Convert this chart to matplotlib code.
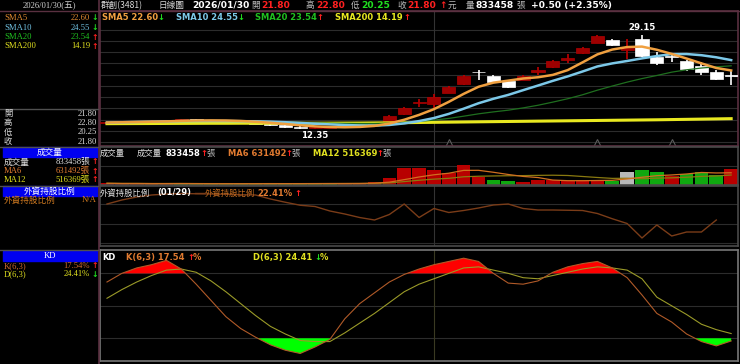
import numpy as np
import pandas as pd
import matplotlib.pyplot as plt
from matplotlib.patches import Rectangle
from matplotlib.lines import Line2D

W, H = 740, 364

# daily candles (2026/01/30 is the last bar)
opens = [13.4, 13.5, 13.6, 13.7, 13.8, 13.9, 14.0, 13.9, 13.8, 13.7, 13.5, 13.3, 13.0, 12.7, 12.5, 12.6, 12.7, 12.8, 13.0,
         13.6, 15.0, 17.0, 16.8, 18.8, 20.4, 22.4, 21.8, 20.9, 21.1, 22.4, 23.3, 24.7, 25.8, 27.7,
         28.1, 26.4, 28.4, 25.2, 25.2, 24.5, 23.6, 22.4, 21.8]
highs = [13.5, 13.7, 13.8, 13.9, 14.0, 14.1, 14.1, 14.0, 13.9, 13.8, 13.6, 13.4, 13.1, 12.8, 12.7, 12.8, 12.9, 13.1, 13.5,
         14.8, 16.2, 17.7, 18.6, 20.0, 21.9, 22.9, 21.9, 21.0, 21.9, 23.3, 24.6, 25.6, 27.0, 29.0,
         28.3, 28.3, 29.15, 26.0, 25.8, 24.6, 24.3, 22.8, 22.8]
lows = [13.3, 13.4, 13.5, 13.6, 13.7, 13.8, 13.8, 13.7, 13.6, 13.4, 13.2, 12.9, 12.6, 12.4, 12.35, 12.5, 12.6, 12.7, 12.9,
        13.5, 14.8, 16.3, 16.1, 18.7, 20.1, 21.1, 20.6, 19.6, 21.0, 22.0, 23.2, 24.0, 25.6, 27.6,
        27.1, 24.8, 25.2, 23.8, 24.2, 22.7, 22.0, 21.0, 20.25]
closes = [13.5, 13.6, 13.7, 13.8, 13.9, 14.0, 13.9, 13.8, 13.7, 13.5, 13.3, 13.0, 12.7, 12.5, 12.6, 12.7, 12.8, 13.0, 13.4,
          14.7, 16.1, 17.1, 18.1, 19.9, 21.8, 22.4, 20.75, 19.9, 21.8, 22.9, 24.5, 25.0, 26.8, 28.9,
          27.2, 26.7, 25.4, 24.0, 25.2, 23.1, 22.4, 21.3, 21.8]
sma200 = [13.30, 13.31, 13.32, 13.33, 13.34, 13.35, 13.36, 13.37, 13.37, 13.38, 13.38,
          13.38, 13.38, 13.38, 13.38, 13.39, 13.40, 13.41, 13.43, 13.45, 13.48,
          13.51, 13.54, 13.57, 13.60, 13.63, 13.66, 13.69, 13.72, 13.75, 13.78,
          13.81, 13.84, 13.87, 13.90, 13.93, 13.96, 13.99, 14.03, 14.07, 14.11, 14.15, 14.19]

volumes = [90000, 70000, 80000, 60000, 75000, 85000, 65000, 55000, 70000, 60000, 80000, 95000, 70000, 60000,
           85000, 75000, 90000, 110000, 150000,
           380000, 870000, 900000, 780000, 610000, 1030000, 400000, 260000, 210000, 170000, 260000, 245000,
           210000, 245000, 275000,
           225000, 690000, 780000, 700000, 470000, 580000, 700000, 535000, 833458]
vol_dir = list('uuuuu' 'ddddddddddd' 'uuu' 'uuuuuuu' 'dd' 'uuuuuu' 'd' 'f' 'dd' 'u' 'ddd' 'u')

# foreign holding ratio (last value is 01/29)
foreign_pct = [23.05, 23.21, 23.33, 23.41, 23.45, 23.47, 23.46, 23.45, 23.44, 23.42, 23.41, 23.25, 23.12, 23.00,
               22.95, 22.77, 22.65, 22.51, 22.41, 22.63, 23.05, 22.51, 22.87, 22.71, 22.79, 22.89, 23.01, 23.05,
               22.87, 22.81, 22.81, 22.80, 22.79, 22.67, 22.46, 22.27, 21.69, 22.21, 21.77, 21.93, 21.93, 22.41]

k_vals = [72, 80, 85, 88, 92, 84, 70, 55, 40, 29, 21, 14, 9, 6, 12, 19, 38, 52, 62, 72, 79, 84, 88, 91, 94,
          91, 80, 71, 70, 73, 81, 86, 89, 91, 85, 76, 60, 43, 35, 24, 17, 13, 17.54]
d_vals = [57, 65, 72, 78, 83, 84, 81, 73, 63, 52, 41, 31, 24, 18, 17, 17, 25, 34, 43, 53, 63, 70, 75, 80, 85,
          86, 83, 80, 76, 75, 78, 81, 84, 86, 85, 83, 75, 58, 50, 42, 33, 28, 24.41]

event_bars = [23, 33, 38]

SANS = ['DejaVu Sans', 'Noto Sans CJK TC']
CJK = ['Noto Sans CJK TC', 'DejaVu Sans']
SERIF = ['Liberation Serif', 'Noto Sans CJK TC']
RED, GREEN = '#ff2020', '#20e020'

fig = plt.figure(figsize=(W / 100, H / 100), dpi=100, facecolor='black')


def px_axes(x0, y0, x1, y1):
    ax = fig.add_axes([x0 / W, 1 - y1 / H, (x1 - x0) / W, (y1 - y0) / H])
    ax.set_facecolor('black')
    ax.set_xticks([])
    ax.set_yticks([])
    ax.set_xlim(-0.47, 42.46)
    return ax


def put(x, y, s, color='#e0e0e0', size=6.0, bold=False, fam=SANS, ha='left'):
    fig.text(x / W, 1 - y / H, s, color=color, fontsize=size, ha=ha, va='center',
             fontweight='bold' if bold else 'normal', family=fam)


def frame(ax, color):
    for sp in ax.spines.values():
        sp.set_color(color)
        sp.set_linewidth(1.2)


x = np.arange(len(closes))
o, h, l, c = map(np.array, (opens, highs, lows, closes))
close_s = pd.Series(closes)

# ---- price panel
ax_p = px_axes(100, 11, 738, 146)
ax_p.set_ylim(9.33, 33.33)
for g in range(10, 31, 2):
    ax_p.axhline(g, color='#2c2c2c', lw=0.8, zorder=0)
ax_p.axvline(22, color='#333333', lw=0.8, zorder=0)
up = c > o
for i in x:
    col = '#c00000' if up[i] else 'white'
    ax_p.vlines(i, l[i], h[i], color=col, lw=1.2, zorder=2)
    body = max(abs(c[i] - o[i]), 0.15)
    ax_p.bar(i, body, bottom=min(o[i], c[i]), width=0.88,
             color='#9e0000' if up[i] else 'white', edgecolor='#b00000' if up[i] else 'white',
             lw=0.5, zorder=3)
ax_p.plot(x, sma200, color='#e8e820', lw=2.2, zorder=4)
ax_p.plot(x, close_s.rolling(20, min_periods=1).mean(), color='#1f6f1f', lw=0.9, zorder=4)
ax_p.plot(x, close_s.rolling(10, min_periods=1).mean(), color='#7cc8e8', lw=1.8, zorder=5)
ax_p.plot(x, close_s.rolling(5, min_periods=1).mean(), color='#f0a040', lw=1.8, zorder=6)
ax_p.hlines(c[-1], x[-1] + 0.1, x[-1] + 0.5, color='#888888', lw=0.8, zorder=2)
ax_p.plot(event_bars, [ax_p.get_ylim()[0] + 0.45] * len(event_bars), ls='none', marker='^',
          ms=6, mfc='none', mec='#5a5a5a', mew=0.8)
hi_i, lo_i = int(np.argmax(h)), int(np.argmin(l))
ax_p.text(hi_i, h[hi_i] + 0.45, f'{h[hi_i]:.2f}', color='white', fontsize=6.2, fontweight='bold',
          ha='center', va='bottom')
ax_p.text(lo_i, l[lo_i] - 0.35, f'{l[lo_i]:.2f}', color='white', fontsize=6.2, fontweight='bold',
          ha='center', va='top')
frame(ax_p, '#5a3040')

# ---- volume panel
ax_v = px_axes(100, 147, 738, 185)
ax_v.set_ylim(0, 1.98e6)
ax_v.axhline(1.0e6, color='#2c2c2c', lw=0.8, zorder=0)
ax_v.axvline(22, color='#333333', lw=0.8, zorder=0)
vcol = {'u': '#b80000', 'd': '#10a810', 'f': '#b8b8b8'}
ax_v.bar(x, volumes, width=0.92, color=[vcol[d] for d in vol_dir], zorder=2)
vol_s = pd.Series(volumes)
ax_v.plot(x, vol_s.rolling(12, min_periods=1).mean(), color='#8a7a10', lw=0.9, zorder=3)
ax_v.plot(x, vol_s.rolling(6, min_periods=1).mean(), color='#d07020', lw=0.9, zorder=3)
frame(ax_v, '#4a4a4a')

# ---- foreign holding panel
ax_f = px_axes(100, 186, 738, 246)
ax_f.set_ylim(21.37, 23.77)
for g in (23.05, 22.27, 21.49):
    ax_f.axhline(g, color='#2c2c2c', lw=0.8, zorder=0)
ax_f.axvline(22, color='#333333', lw=0.8, zorder=0)
ax_f.plot(np.arange(len(foreign_pct)), foreign_pct, color='#7a3c18', lw=1.0)
frame(ax_f, '#4a4a4a')

# ---- KD panel
ax_k = px_axes(100, 250, 738, 361)
ax_k.set_ylim(-0.96, 101.57)
for g in (20, 50, 80):
    ax_k.axhline(g, color='#2c2c2c', lw=0.8, zorder=0)
ax_k.axvline(22, color='#3a3a22', lw=0.8, zorder=0)
kk, dd = np.array(k_vals), np.array(d_vals)
ax_k.fill_between(x, kk, 80, where=kk >= 80, interpolate=True, color='#ff0000', lw=0, zorder=1)
ax_k.fill_between(x, kk, 20, where=kk <= 20, interpolate=True, color='#00ff00', lw=0, zorder=1)
ax_k.plot(x, dd, color='#9a9a28', lw=0.8, zorder=2)
ax_k.plot(x, kk, color='#b05a28', lw=0.8, zorder=2)
frame(ax_k, '#777777')

# ---- frame lines of the left column
fig.add_artist(Line2D([98.5 / W] * 2, [0, 1], color='#5a3040', lw=1.2))
fig.add_artist(Line2D([0, 1], [1 - 10.5 / H] * 2, color='#5a3040', lw=1.0))
for yy in (108.5, 146.5, 185.5, 249.5):
    fig.add_artist(Line2D([0, 98 / W], [1 - yy / H] * 2, color='#505050', lw=1.0))
for y0, y1 in ((147, 157), (186, 196), (251, 261)):
    fig.add_artist(Rectangle((3 / W, 1 - y1 / H), 94 / W, (y1 - y0) / H,
                             transform=fig.transFigure, color='#0000f0'))

# ---- header
put(49, 5.5, '2026/01/30(五)', '#d0d0d0', 6.2, fam=SERIF, ha='center')
put(101, 5.5, '群創(3481)', '#d8d8d8', 6.2, fam=CJK)
put(158, 5.5, '日線圖', '#d8d8d8', 6.2, fam=CJK)
put(192, 5.5, '2026/01/30', 'white', 6.6, bold=True)
put(251, 5.5, '開', '#bbbbbb', 6.2, fam=CJK)
put(261, 5.5, '21.80', RED, 6.6, bold=True)
put(305, 5.5, '高', '#bbbbbb', 6.2, fam=CJK)
put(316, 5.5, '22.80', RED, 6.6, bold=True)
put(351, 5.5, '低', '#bbbbbb', 6.2, fam=CJK)
put(361, 5.5, '20.25', GREEN, 6.6, bold=True)
put(397, 5.5, '收', '#bbbbbb', 6.2, fam=CJK)
put(407, 5.5, '21.80', RED, 6.6, bold=True)
put(439, 5.5, '↑', RED, 6.4, bold=True)
put(448, 5.5, '元', '#bbbbbb', 6.2, fam=CJK)
put(466, 5.5, '量', '#bbbbbb', 6.2, fam=CJK)
put(475, 5.5, '833458', 'white', 6.6, bold=True)
put(516, 5.5, '張', '#bbbbbb', 6.2, fam=CJK)
put(531, 5.5, '+0.50 (+2.35%)', 'white', 6.6, bold=True)

# ---- price panel title
put(102, 18, 'SMA5 22.60', '#f0a040', 6.0, bold=True)
put(157, 18, '↓', GREEN, 6.0, bold=True)
put(176, 18, 'SMA10 24.55', '#7cc8e8', 6.0, bold=True)
put(237, 18, '↓', GREEN, 6.0, bold=True)
put(255, 18, 'SMA20 23.54', '#20c020', 6.0, bold=True)
put(316, 18, '↑', RED, 6.0, bold=True)
put(335, 18, 'SMA200 14.19', '#e8e820', 6.0, bold=True)
put(403, 18, '↑', RED, 6.0, bold=True)

# ---- left column values
left_rows = [('SMA5', '22.60', '#e08a30', '↓', GREEN, 17.5), ('SMA10', '24.55', '#70c0e0', '↓', GREEN, 27.5),
             ('SMA20', '23.54', '#20c020', '↑', RED, 37), ('SMA200', '14.19', '#e0e020', '↑', RED, 46.5)]
for name, val, col, arr, acol, yy in left_rows:
    put(4, yy, name, col, 6.2, fam=SERIF)
    put(90, yy, val, col, 6.2, fam=SERIF, ha='right')
    put(91, yy, arr, acol, 5.6, bold=True)
for name, val, yy in (('開', '21.80', 113.5), ('高', '22.80', 123), ('低', '20.25', 132.5), ('收', '21.80', 142)):
    put(4, yy, name, '#d8d8d8', 6.0, fam=CJK)
    put(97, yy, val, '#d8d8d8', 6.2, fam=SERIF, ha='right')

put(50, 152, '成交量', 'white', 6.2, fam=CJK, ha='center')
for name, val, col, yy in (('成交量', '833458張', '#e0e0e0', 162), ('MA6', '631492張', '#e07a30', 171),
                           ('MA12', '516369張', '#e0e020', 180)):
    put(4, yy, name, col, 6.2, fam=SERIF if name.startswith('MA') else CJK)
    put(90, yy, val, col, 6.2, fam=SERIF, ha='right')
    put(91, yy, '↑', RED, 5.6, bold=True)

put(50, 191, '外資持股比例', 'white', 6.2, fam=CJK, ha='center')
put(4, 200, '外資持股比例', '#d07a20', 6.2, fam=CJK)
put(97, 200, 'N/A', '#d07a20', 6.2, fam=SERIF, ha='right')

put(50, 256, 'KD', 'white', 6.2, fam=SERIF, ha='center')
put(4, 266, 'K(6,3)', '#d06a30', 6.2, fam=SERIF)
put(90, 266, '17.54%', '#d06a30', 6.2, fam=SERIF, ha='right')
put(91, 266, '↑', RED, 5.6, bold=True)
put(4, 274.5, 'D(6,3)', '#e0e020', 6.2, fam=SERIF)
put(90, 274.5, '24.41%', '#e0e020', 6.2, fam=SERIF, ha='right')
put(91, 274.5, '↓', GREEN, 5.6, bold=True)

# ---- volume / foreign / KD titles
put(100, 153.5, '成交量', '#e0e0e0', 6.0, fam=CJK)
put(137, 153.5, '成交量', '#e0e0e0', 6.0, fam=CJK)
put(165, 153.5, '833458', 'white', 6.0, bold=True)
put(200, 153.5, '↑', RED, 6.0, bold=True)
put(206, 153.5, '張', '#bbbbbb', 6.0, fam=CJK)
put(228, 153.5, 'MA6 631492', '#e07a30', 6.0, bold=True)
put(285, 153.5, '↑', RED, 6.0, bold=True)
put(291, 153.5, '張', '#bbbbbb', 6.0, fam=CJK)
put(313, 153.5, 'MA12 516369', '#e0e020', 6.0, bold=True)
put(376, 153.5, '↑', RED, 6.0, bold=True)
put(382, 153.5, '張', '#bbbbbb', 6.0, fam=CJK)

put(100, 193, '外資持股比例', '#e0e0e0', 6.0, fam=CJK)
put(157, 193, '(01/29)', 'white', 6.0, bold=True)
fig.add_artist(Line2D([195 / W, 204 / W], [1 - 193 / H] * 2, color='#7a3c18', lw=1.0))
put(205, 193, '外資持股比例', '#c06a20', 6.0, fam=CJK)
put(257, 193, '22.41%', '#e07a30', 6.0, bold=True)
put(294, 193, '↑', RED, 6.0, bold=True)

put(102, 257.5, 'KD', 'white', 6.0, bold=True)
put(126, 257.5, 'K(6,3) 17.54', '#e07a30', 6.0, bold=True)
put(187, 257.5, '↑', RED, 6.0, bold=True)
put(193, 257.5, '%', '#e07a30', 6.0, bold=True)
put(253, 257.5, 'D(6,3) 24.41', '#e0e020', 6.0, bold=True)
put(314, 257.5, '↓', GREEN, 6.0, bold=True)
put(320, 257.5, '%', '#e0e020', 6.0, bold=True)

fig.savefig('out.png', dpi=100, facecolor='black')
